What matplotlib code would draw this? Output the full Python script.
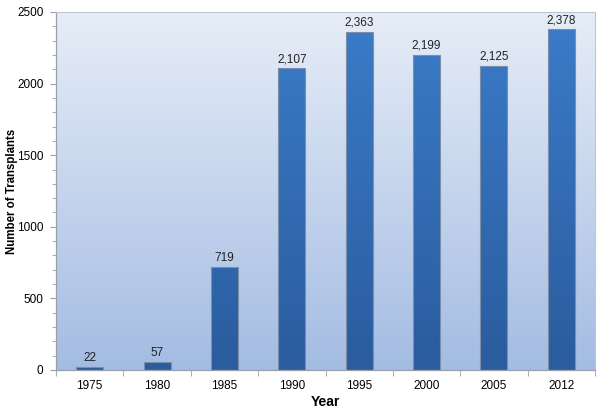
import numpy as np
import matplotlib
matplotlib.use('Agg')
import matplotlib.pyplot as plt
from matplotlib.colors import LinearSegmentedColormap
from matplotlib.ticker import MultipleLocator

plt.rcParams['font.family'] = ['Liberation Sans', 'DejaVu Sans']

# Data
years = ['1975', '1980', '1985', '1990', '1995', '2000', '2005', '2012']
transplants = [22, 57, 719, 2107, 2363, 2199, 2125, 2378]

fig = plt.figure(figsize=(6.04, 4.13), dpi=100)
ax = fig.add_axes([56 / 604, 43 / 413, 539 / 604, 358 / 413])

x = np.arange(len(years))
ax.set_xlim(-0.5, len(years) - 0.5)
ax.set_ylim(0, 2500)

# Background gradient of the plot area
bg = LinearSegmentedColormap.from_list('bg', ['#a4bce3', '#e6edf7'])
grad = np.linspace(0, 1, 256).reshape(-1, 1)
ax.imshow(grad, cmap=bg, origin='lower', aspect='auto',
          extent=[-0.5, len(years) - 0.5, 0, 2500], zorder=0)

# Bars with a vertical gradient
bar_cmap = LinearSegmentedColormap.from_list('bar', ['#2a5c9e', '#3b7cc9'])
bars = ax.bar(x, transplants, width=0.4, color='none',
              edgecolor='#7d8fa8', linewidth=0.8, zorder=2)
for b in bars:
    im = ax.imshow(grad, cmap=bar_cmap, origin='lower', aspect='auto',
                   extent=[b.get_x(), b.get_x() + b.get_width(), 0, 2500],
                   zorder=1.5)
    im.set_clip_path(b)

for xi, v in zip(x, transplants):
    ax.text(xi, v + 22, f'{v:,}', ha='center', va='bottom',
            fontsize=8.5, color='#222222')

# Axes styling
for side in ['top', 'right']:
    ax.spines[side].set_color('#c0c6d0')
    ax.spines[side].set_linewidth(0.8)
for side in ['left', 'bottom']:
    ax.spines[side].set_color('#9aa0aa')
    ax.spines[side].set_linewidth(0.9)

ax.yaxis.set_major_locator(MultipleLocator(500))
ax.yaxis.set_minor_locator(MultipleLocator(100))
ax.tick_params(axis='y', which='major', length=4, color='#9aa0aa',
               labelsize=8.5, pad=5)
ax.tick_params(axis='y', which='minor', length=3, color='#9aa0aa')

ax.set_xticks(x)
ax.set_xticklabels(years)
ax.set_xticks(np.arange(-0.5, len(years), 1), minor=True)
ax.tick_params(axis='x', which='major', length=0, labelsize=8.5, pad=7)
ax.tick_params(axis='x', which='minor', length=4, color='#9aa0aa')

ax.set_ylabel('Number of Transplants', fontsize=8.3, fontweight='bold')
ax.yaxis.set_label_coords((18.5 - 56) / 539, 0.5)
ax.set_xlabel('Year', fontsize=10, fontweight='bold', labelpad=2)

fig.savefig('out.png', dpi=100)
